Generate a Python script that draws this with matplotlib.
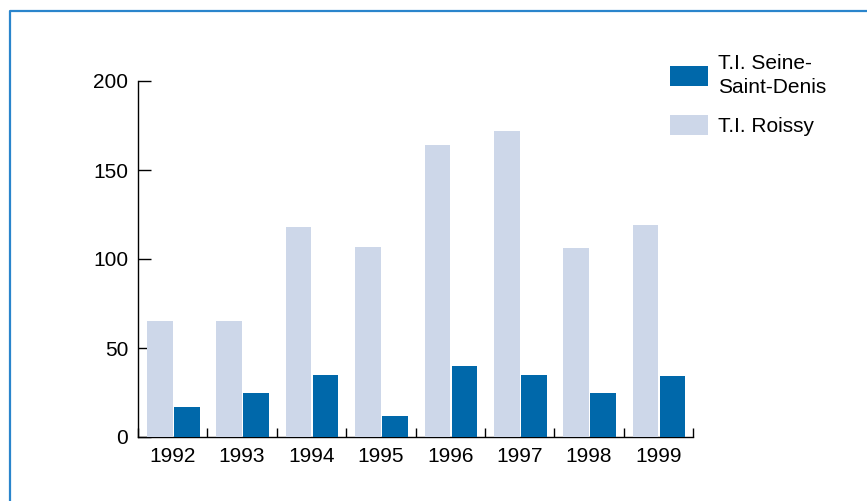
import matplotlib
matplotlib.use("Agg")
import matplotlib.pyplot as plt
from matplotlib.lines import Line2D
from matplotlib.patches import Patch
import numpy as np

plt.rcParams['font.family'] = ['Liberation Sans', 'DejaVu Sans']

years = ["1992", "1993", "1994", "1995", "1996", "1997", "1998", "1999"]
roissy = [65, 65, 118, 107, 164, 172, 106, 119]
seine_saint_denis = [17, 25, 35, 12, 40, 35, 25, 34]
label_ssd = "T.I. Seine-\nSaint-Denis"
label_roissy = "T.I. Roissy"

dark = "#0068aa"
light = "#cdd7e9"
fs = 15

W, H = 867, 501
fig = plt.figure(figsize=(W / 100, H / 100), dpi=100)
ax = fig.add_axes([138 / W, 1 - 437 / H, (693 - 138) / W, (437 - 81) / H])

x = np.arange(len(years))
bw = 0.37
ax.bar(x + 0.13, roissy, width=bw, align="edge", color=light, zorder=3)
ax.bar(x + 0.52, seine_saint_denis, width=bw, align="edge", color=dark, zorder=3)

ax.set_xlim(0, len(years))
ax.set_ylim(0, 200)
ax.set_yticks([0, 50, 100, 150, 200])
ax.set_xticks(np.arange(len(years) + 1))
ax.set_xticklabels([])
ax.set_xticks(x + 0.5, minor=True)
ax.set_xticklabels(years, minor=True)

for s in ("top", "right"):
    ax.spines[s].set_visible(False)
for s in ("left", "bottom"):
    ax.spines[s].set_linewidth(1.0)
    ax.spines[s].set_color("black")

ax.tick_params(axis="y", direction="in", length=9.5, width=1.0, pad=7, labelsize=fs)
ax.tick_params(axis="x", which="major", direction="in", length=6.5, width=1.0)
ax.tick_params(axis="x", which="minor", length=0, pad=7.5, labelsize=fs)

handles = [Patch(facecolor=dark), Patch(facecolor=light)]
leg = fig.legend(handles, [label_ssd, label_roissy], loc="upper left",
                 bbox_to_anchor=(662 / W, 1 - 46 / H), frameon=False, fontsize=fs,
                 handlelength=1.83, handleheight=1.15, handletextpad=0.45,
                 labelspacing=0.85, borderaxespad=0)
for t in leg.get_texts():
    t.set_linespacing(1.3)

# blue frame along the top and left edges
fig.add_artist(Line2D([9.5 / W, 9.5 / W, 1.0], [0.0, 1 - 10.5 / H, 1 - 10.5 / H],
                      transform=fig.transFigure, color="#2a85cc", linewidth=1.6))

fig.savefig("out.png", dpi=100)
